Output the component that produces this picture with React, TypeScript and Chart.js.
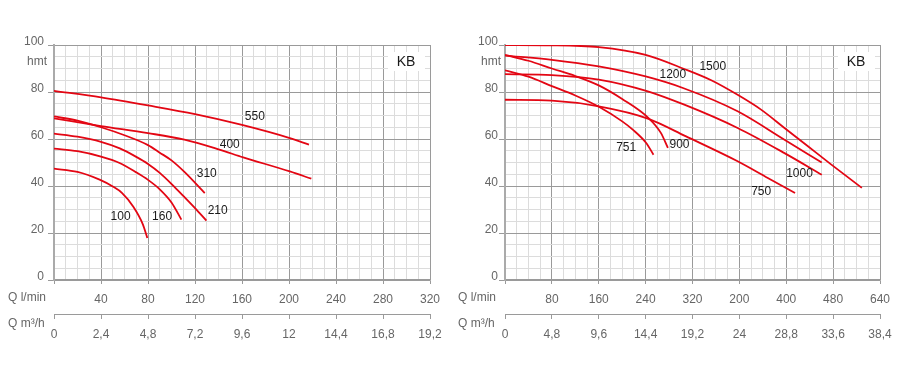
import React, { useEffect, useRef } from 'react';
import { Chart, registerables } from 'chart.js';
Chart.register(...registerables);

type Pt = [number, number];

// ---------- Left panel data (Q l/min, H m) ----------
const leftFlowLabels = ['', '40', '80', '120', '160', '200', '240', '280', '320'];
const leftM3hLabels = ['0', '2,4', '4,8', '7,2', '9,6', '12', '14,4', '16,8', '19,2'];
const leftNames = ['100', '160', '210', '310', '400', '550'];
const left100: Pt[] = [[0, 47.4], [20, 46], [38.8, 42.7], [50, 39.8], [58, 37], [67.2, 31.4], [75.7, 23.6], [79.4, 17.9]];
const left160: Pt[] = [[0, 55.9], [20, 54.8], [40, 52.5], [55.8, 49.8], [70, 45.8], [80, 42.6], [90, 38.6], [100, 33], [108.4, 25.7]];
const left210: Pt[] = [[0, 62.3], [20, 61], [40, 58.8], [56, 56], [70, 52.4], [80, 49.4], [90, 45.6], [101, 40.4], [110, 35.8], [120, 30.6], [129.7, 25.3]];
const left310: Pt[] = [[0, 69.6], [20, 67.8], [40, 65], [60, 61.6], [80, 57.4], [90, 54.2], [100, 50.9], [111, 46], [128.3, 37]];
const left400: Pt[] = [[0, 68.8], [40, 65.5], [80, 62.5], [111, 59.7], [140, 55.6], [161, 52.2], [200.7, 46.2], [219, 43.1]];
const left550: Pt[] = [[0, 80.5], [40, 77.7], [80, 74.3], [120, 70.6], [160, 66], [200, 60.5], [217, 57.6]];
const leftLabelAt: Pt[] = [[56.7, 27.1], [92, 27.1], [139.3, 29.7], [130, 45.3], [149.6, 57.6], [170.9, 69.3]];

// ---------- Right panel data ----------
const rightFlowLabels = ['', '80', '160', '240', '320', '200', '400', '480', '640'];
const rightM3hLabels = ['0', '4,8', '9,6', '14,4', '19,2', '24', '28,8', '33,6', '38,4'];
const rightNames = ['750', '751', '900', '1000', '1200', '1500'];
const right750: Pt[] = [[0, 76.7], [80, 76.3], [160, 73.9], [245, 68.6], [309, 61.1], [397, 50.5], [448.5, 43.4], [495, 37]];
const right751: Pt[] = [[0, 89.2], [40, 86.5], [80, 82.5], [120, 78.5], [161, 73.6], [200, 67.5], [218, 64], [241, 58.3], [253.4, 53.3]];
const right900: Pt[] = [[0, 95.8], [40, 93.3], [80, 90], [120, 86.8], [160, 82.8], [200, 77], [245, 68.9], [266, 62.6], [278, 56.2]];
const right1000: Pt[] = [[0, 87.6], [80, 87.2], [160, 85.3], [241, 80.5], [306, 74.6], [397, 64.7], [477, 54], [540.6, 44.8]];
const right1200: Pt[] = [[0, 95.5], [80, 93.7], [160, 90.9], [240, 86.6], [306, 81.5], [397, 71.8], [477, 59.7], [540.6, 50]];
const right1500: Pt[] = [[0, 100], [80, 99.9], [160, 99.1], [240, 95.8], [306, 89.8], [352, 85], [397, 78.8], [437, 72.5], [477, 64.7], [517, 56.9], [557, 49.1], [609, 39.2]];
const rightLabelAt: Pt[] = [[437.2, 37.5], [206.8, 56.2], [297.8, 57.6], [502.6, 45.1], [286.4, 87.3], [354.6, 90.6]];

const FONT = '"Liberation Sans", Arial, sans-serif';
const RED = '#e30613';
const MAJOR = '#9a9a9a';
const MINOR = '#dcdcdc';
const TICK_TXT = '#666';

interface PanelCfg {
  curves: Pt[][];
  names: string[];
  labelAt: Pt[];
  flowLabels: string[];
  m3hLabels: string[];
  xMax: number;
  xMinor: number;
  xMajor: number;
  yAxisWidth: number;
  yPad: number;
  hmtGap: number;
}

function makeChart(canvas: HTMLCanvasElement, cfg: PanelCfg) {
  const textPlugin = {
    id: 'panelTexts',
    beforeDatasetsDraw(chart: any) {
      const { ctx, chartArea } = chart;
      ctx.save();
      ctx.fillStyle = '#fff';
      ctx.fillRect(chartArea.right - 42, chartArea.top + 7, 37, 19);
      ctx.restore();
    },
    afterDraw(chart: any) {
      const { ctx, chartArea, scales } = chart;
      const xs = scales.x, ys = scales.y, x2 = scales.x2;
      ctx.save();
      ctx.textBaseline = 'middle';
      ctx.textAlign = 'center';
      ctx.font = `12px ${FONT}`;
      ctx.fillStyle = '#1a1a1a';
      cfg.names.forEach((n, i) => {
        const [q, h] = cfg.labelAt[i];
        ctx.fillText(n, xs.getPixelForValue(q), ys.getPixelForValue(h));
      });
      ctx.font = `14px ${FONT}`;
      ctx.fillText('KB', chartArea.right - 24, chartArea.top + 17);
      ctx.font = `12px ${FONT}`;
      ctx.fillStyle = TICK_TXT;
      ctx.textAlign = 'right';
      ctx.fillText('hmt', chartArea.left - cfg.hmtGap, chartArea.top + 17);
      ctx.textAlign = 'left';
      ctx.fillText('Q l/min', 8, xs.top + 18);
      ctx.fillText('Q m\u00b3/h', 8, x2.top + 10);
      ctx.restore();
    },
  };

  const datasets = cfg.curves.map((c, i) => ({
    label: cfg.names[i],
    data: c.map(([x, y]) => ({ x, y })),
    borderColor: RED,
    borderWidth: 1.8,
    pointRadius: 0,
    fill: false,
    cubicInterpolationMode: 'monotone' as const,
  }));

  return new Chart(canvas, {
    type: 'line',
    data: { datasets },
    plugins: [textPlugin],
    options: {
      responsive: false,
      animation: false,
      events: [],
      layout: { padding: { top: 45, right: 20, left: 0, bottom: 0 } },
      plugins: { legend: { display: false }, tooltip: { enabled: false } },
      scales: {
        x: {
          type: 'linear',
          position: 'bottom',
          weight: 0,
          min: 0,
          max: cfg.xMax,
          afterFit: (s: any) => { s.height = 34; },
          ticks: {
            stepSize: cfg.xMinor,
            autoSkip: false,
            maxRotation: 0,
            padding: 8,
            color: TICK_TXT,
            font: { family: FONT, size: 12 },
            callback: (v: any) => (v % cfg.xMajor === 0 ? cfg.flowLabels[Math.round(v / cfg.xMajor)] : ''),
          },
          grid: {
            color: (c: any) => (c.tick && c.tick.value % cfg.xMajor === 0 ? MAJOR : MINOR),
            tickColor: (c: any) => (c.tick && c.tick.value % cfg.xMajor === 0 ? MAJOR : 'rgba(0,0,0,0)'),
            tickLength: 4,
            lineWidth: 1,
          },
          border: { color: MAJOR, width: 1.5 },
        },
        x2: {
          type: 'linear',
          position: 'bottom',
          weight: 1,
          min: 0,
          max: 8,
          afterFit: (s: any) => { s.height = 65; },
          ticks: {
            stepSize: 1,
            autoSkip: false,
            maxRotation: 0,
            padding: 8,
            color: TICK_TXT,
            font: { family: FONT, size: 12 },
            callback: (v: any) => cfg.m3hLabels[Math.round(v)] ?? '',
          },
          grid: { drawOnChartArea: false, tickLength: 5, color: MAJOR, tickColor: MAJOR },
          border: { color: MAJOR, width: 1 },
        },
        y: {
          type: 'linear',
          min: 0,
          max: 100,
          afterFit: (s: any) => { s.width = cfg.yAxisWidth; },
          ticks: {
            stepSize: 5,
            autoSkip: false,
            padding: cfg.yPad,
            labelOffset: -3,
            color: TICK_TXT,
            font: { family: FONT, size: 12 },
            callback: (v: any) => (v % 20 === 0 ? String(v) : ''),
          },
          grid: {
            color: (c: any) => (c.tick && c.tick.value % 20 === 0 ? MAJOR : MINOR),
            tickColor: (c: any) => (c.tick && c.tick.value % 20 === 0 ? MAJOR : 'rgba(0,0,0,0)'),
            tickLength: 6,
            lineWidth: 1,
          },
          border: { color: '#aaa', width: 2 },
        },
      },
    } as any,
  });
}

const leftCfg: PanelCfg = {
  curves: [left100, left160, left210, left310, left400, left550],
  names: leftNames,
  labelAt: leftLabelAt,
  flowLabels: leftFlowLabels,
  m3hLabels: leftM3hLabels,
  xMax: 320,
  xMinor: 10,
  xMajor: 40,
  yAxisWidth: 54,
  yPad: 4,
  hmtGap: 7,
};

const rightCfg: PanelCfg = {
  curves: [right750, right751, right900, right1000, right1200, right1500],
  names: rightNames,
  labelAt: rightLabelAt,
  flowLabels: rightFlowLabels,
  m3hLabels: rightM3hLabels,
  xMax: 640,
  xMinor: 20,
  xMajor: 80,
  yAxisWidth: 55,
  yPad: 1,
  hmtGap: 4,
};

export default function App() {
  const leftRef = useRef<HTMLCanvasElement>(null);
  const rightRef = useRef<HTMLCanvasElement>(null);

  useEffect(() => {
    const a = makeChart(leftRef.current!, leftCfg);
    const b = makeChart(rightRef.current!, rightCfg);
    return () => { a.destroy(); b.destroy(); };
  }, []);

  return (
    <div style={{ position: 'absolute', left: 0, top: 0, width: 900, height: 379, background: '#fff', overflow: 'hidden' }}>
      <canvas ref={leftRef} width={450} height={379} style={{ position: 'absolute', left: 0, top: 0, display: 'block' }} />
      <canvas ref={rightRef} width={450} height={379} style={{ position: 'absolute', left: 450, top: 0, display: 'block' }} />
    </div>
  );
}
